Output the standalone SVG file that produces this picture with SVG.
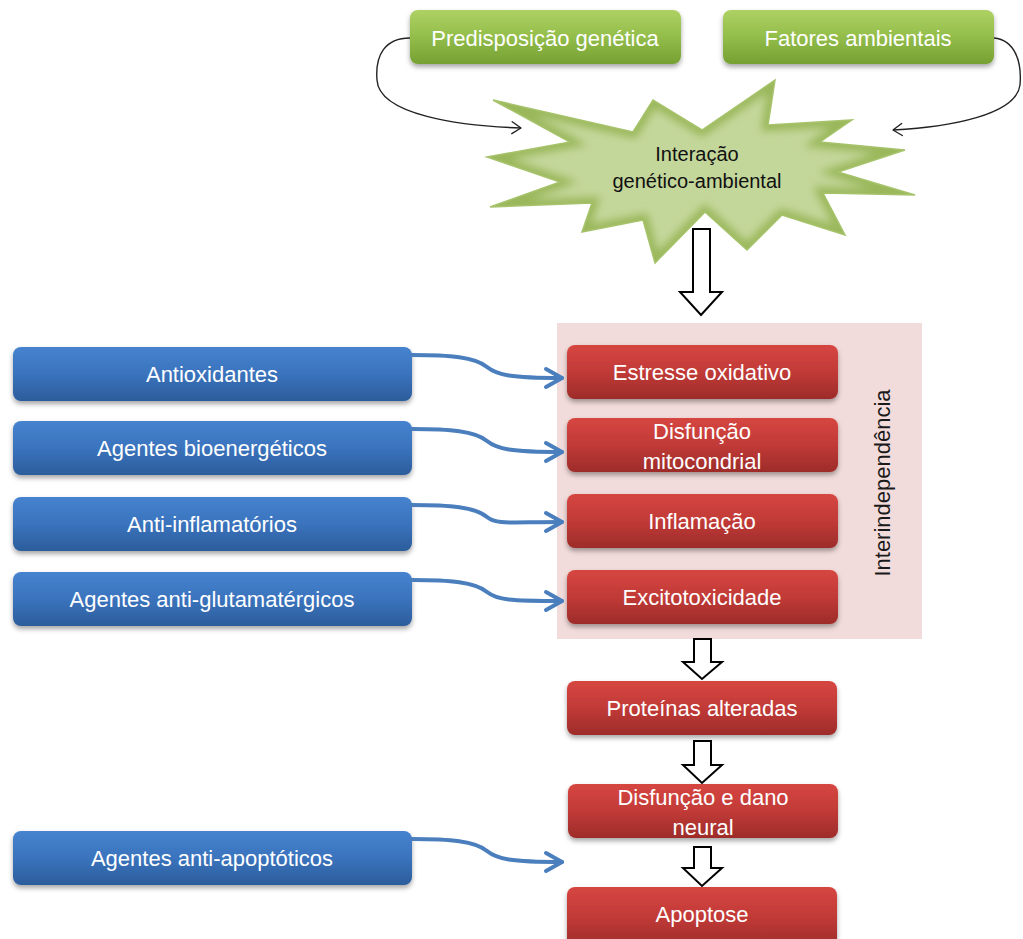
<svg xmlns="http://www.w3.org/2000/svg" width="1023" height="939" viewBox="0 0 1023 939">
<defs>
<linearGradient id="gGreen" x1="0" y1="0" x2="0" y2="1">
<stop offset="0" stop-color="#aed163"/><stop offset="0.5" stop-color="#93bd4a"/><stop offset="1" stop-color="#76a032"/>
</linearGradient>
<linearGradient id="gBlue" x1="0" y1="0" x2="0" y2="1">
<stop offset="0" stop-color="#4683cf"/><stop offset="0.5" stop-color="#3a73bd"/><stop offset="1" stop-color="#2c5d9b"/>
</linearGradient>
<linearGradient id="gRed" x1="0" y1="0" x2="0" y2="1">
<stop offset="0" stop-color="#d64641"/><stop offset="0.5" stop-color="#c13a37"/><stop offset="1" stop-color="#9d2c2a"/>
</linearGradient>
<filter id="shadow" x="-10%" y="-20%" width="120%" height="150%">
<feDropShadow dx="0" dy="3" stdDeviation="2.5" flood-color="#000" flood-opacity="0.35"/>
</filter>
<filter id="blur4"><feGaussianBlur stdDeviation="4"/></filter>
<clipPath id="starClip">
<polygon id="starShape" points="493,100 633,132 653,100 702,130 775,80 768,125 852,120 820,142 905,150 838,172 915,195 823,193 845,235 782,215 747,250 705,212 655,263 643,220 582,232 592,203 490,207 560,182 487,157 570,142"/>
</clipPath>
<marker id="mBlue" viewBox="-20 -12 24 24" refX="0" refY="0" markerWidth="24" markerHeight="24" markerUnits="userSpaceOnUse" orient="auto">
<path d="M-16,-9 L0,0 L-16,9" fill="none" stroke="#4a7ebd" stroke-width="4" stroke-linecap="round" stroke-linejoin="round"/>
</marker>
<marker id="mBlack" viewBox="-12 -8 14 16" refX="0" refY="0" markerWidth="14" markerHeight="16" markerUnits="userSpaceOnUse" orient="auto">
<path d="M-9,-6 L0,0 L-9,6" fill="none" stroke="#222" stroke-width="1.4" stroke-linecap="round" stroke-linejoin="round"/>
</marker>
</defs>
<style>
.txt{font-family:"Liberation Sans",Arial,sans-serif;fill:#ffffff;text-anchor:middle;dominant-baseline:central;}
.bx{font-size:22px;}
.green{fill:url(#gGreen);filter:url(#shadow);}
.blue{fill:url(#gBlue);filter:url(#shadow);}
.red{fill:url(#gRed);filter:url(#shadow);}
.blk{fill:#fff;stroke:#000;stroke-width:2;stroke-linejoin:miter;}
.bconn{fill:none;stroke:#4a7ebd;stroke-width:4;stroke-linecap:round;marker-end:url(#mBlue);}
.kconn{fill:none;stroke:#222;stroke-width:1.4;marker-end:url(#mBlack);}
</style>
<rect width="1023" height="939" fill="#ffffff"/>

<g id="interdependence-area">
<rect x="557" y="323" width="365" height="316" fill="#f2dcdb"/>
<text class="txt" x="882" y="483" transform="rotate(-90 882 483)" style="fill:#1a1a1a;font-size:22px">Interindependência</text>
</g>

<g id="node-predisposicao">
<rect class="green" x="410" y="10" width="271" height="54" rx="8"/>
<text class="txt bx" x="545" y="38">Predisposição genética</text>
</g>
<g id="node-fatores">
<rect class="green" x="723" y="10" width="271" height="54" rx="8"/>
<text class="txt bx" x="858" y="38">Fatores ambientais</text>
</g>

<g id="node-interacao">
<use href="#starShape" fill="#c4d79b"/>
<g clip-path="url(#starClip)">
<use href="#starShape" fill="none" stroke="#9ab75a" stroke-width="12" filter="url(#blur4)"/>
</g>
<use href="#starShape" fill="none" stroke="#a6c36c" stroke-width="1.5"/>
<text class="txt" x="697" y="154" style="fill:#111;font-size:20px">Interação</text>
<text class="txt" x="697" y="181" style="fill:#111;font-size:20px">genético-ambiental</text>
</g>

<g id="node-antioxidantes">
<rect class="blue" x="13" y="347" width="399" height="54" rx="8"/>
<text class="txt bx" x="212" y="374">Antioxidantes</text>
</g>
<g id="node-bioenergeticos">
<rect class="blue" x="13" y="421" width="399" height="54" rx="8"/>
<text class="txt bx" x="212" y="448">Agentes bioenergéticos</text>
</g>
<g id="node-antiinflamatorios">
<rect class="blue" x="13" y="497" width="399" height="54" rx="8"/>
<text class="txt bx" x="212" y="524">Anti-inflamatórios</text>
</g>
<g id="node-antiglutamatergicos">
<rect class="blue" x="13" y="572" width="399" height="54" rx="8"/>
<text class="txt bx" x="212" y="599">Agentes anti-glutamatérgicos</text>
</g>
<g id="node-antiapoptoticos">
<rect class="blue" x="13" y="831" width="399" height="54" rx="8"/>
<text class="txt bx" x="212" y="858">Agentes anti-apoptóticos</text>
</g>

<g id="node-estresse">
<rect class="red" x="567" y="345" width="271" height="54" rx="8"/>
<text class="txt bx" x="702" y="372">Estresse oxidativo</text>
</g>
<g id="node-mitocondrial">
<rect class="red" x="567" y="418" width="271" height="54" rx="8"/>
<text class="txt bx" x="702" y="431">Disfunção</text>
<text class="txt bx" x="702" y="461">mitocondrial</text>
</g>
<g id="node-inflamacao">
<rect class="red" x="567" y="494" width="271" height="54" rx="8"/>
<text class="txt bx" x="702" y="521">Inflamação</text>
</g>
<g id="node-excitotoxicidade">
<rect class="red" x="567" y="570" width="271" height="54" rx="8"/>
<text class="txt bx" x="702" y="597">Excitotoxicidade</text>
</g>
<g id="node-proteinas">
<rect class="red" x="567" y="681" width="270" height="54" rx="8"/>
<text class="txt bx" x="702" y="708">Proteínas alteradas</text>
</g>
<g id="node-dano-neural">
<rect class="red" x="568" y="784" width="270" height="54" rx="8"/>
<text class="txt bx" x="703" y="797">Disfunção e dano</text>
<text class="txt bx" x="703" y="827">neural</text>
</g>
<g id="node-apoptose">
<rect class="red" x="567" y="887" width="270" height="60" rx="8"/>
<text class="txt bx" x="702" y="914">Apoptose</text>
</g>

<g id="connectors">
<path class="kconn" d="M410,38 C385,38 375,55 377,80 C379,115 460,126 521,128"/>
<path class="kconn" d="M994,38 C1015,40 1022,62 1020,85 C1016,115 950,127 893,130"/>
<path class="bconn" d="M412,355 C450,355 475,357 487,367 C497,375 510,378 562,378"/>
<path class="bconn" d="M412,429 C450,429 475,431 487,441 C497,449 510,452 562,452"/>
<path class="bconn" d="M412,505 C450,505 475,507 487,517 C497,525 510,522 562,522"/>
<path class="bconn" d="M412,580 C450,580 475,582 487,592 C497,600 510,601 562,601"/>
<path class="bconn" d="M412,839 C450,839 475,841 487,851 C497,859 510,862 562,862"/>
<polygon class="blk" points="693,229 710,229 710,292 722,292 701,315 680,292 693,292"/>
<polygon class="blk" points="694,639 711,639 711,662 722,662 702,679 683,662 694,662"/>
<polygon class="blk" points="694,741 711,741 711,765 722,765 702,783 683,765 694,765"/>
<polygon class="blk" points="694,847 711,847 711,868 722,868 702,886 683,868 694,868"/>
</g>
</svg>
